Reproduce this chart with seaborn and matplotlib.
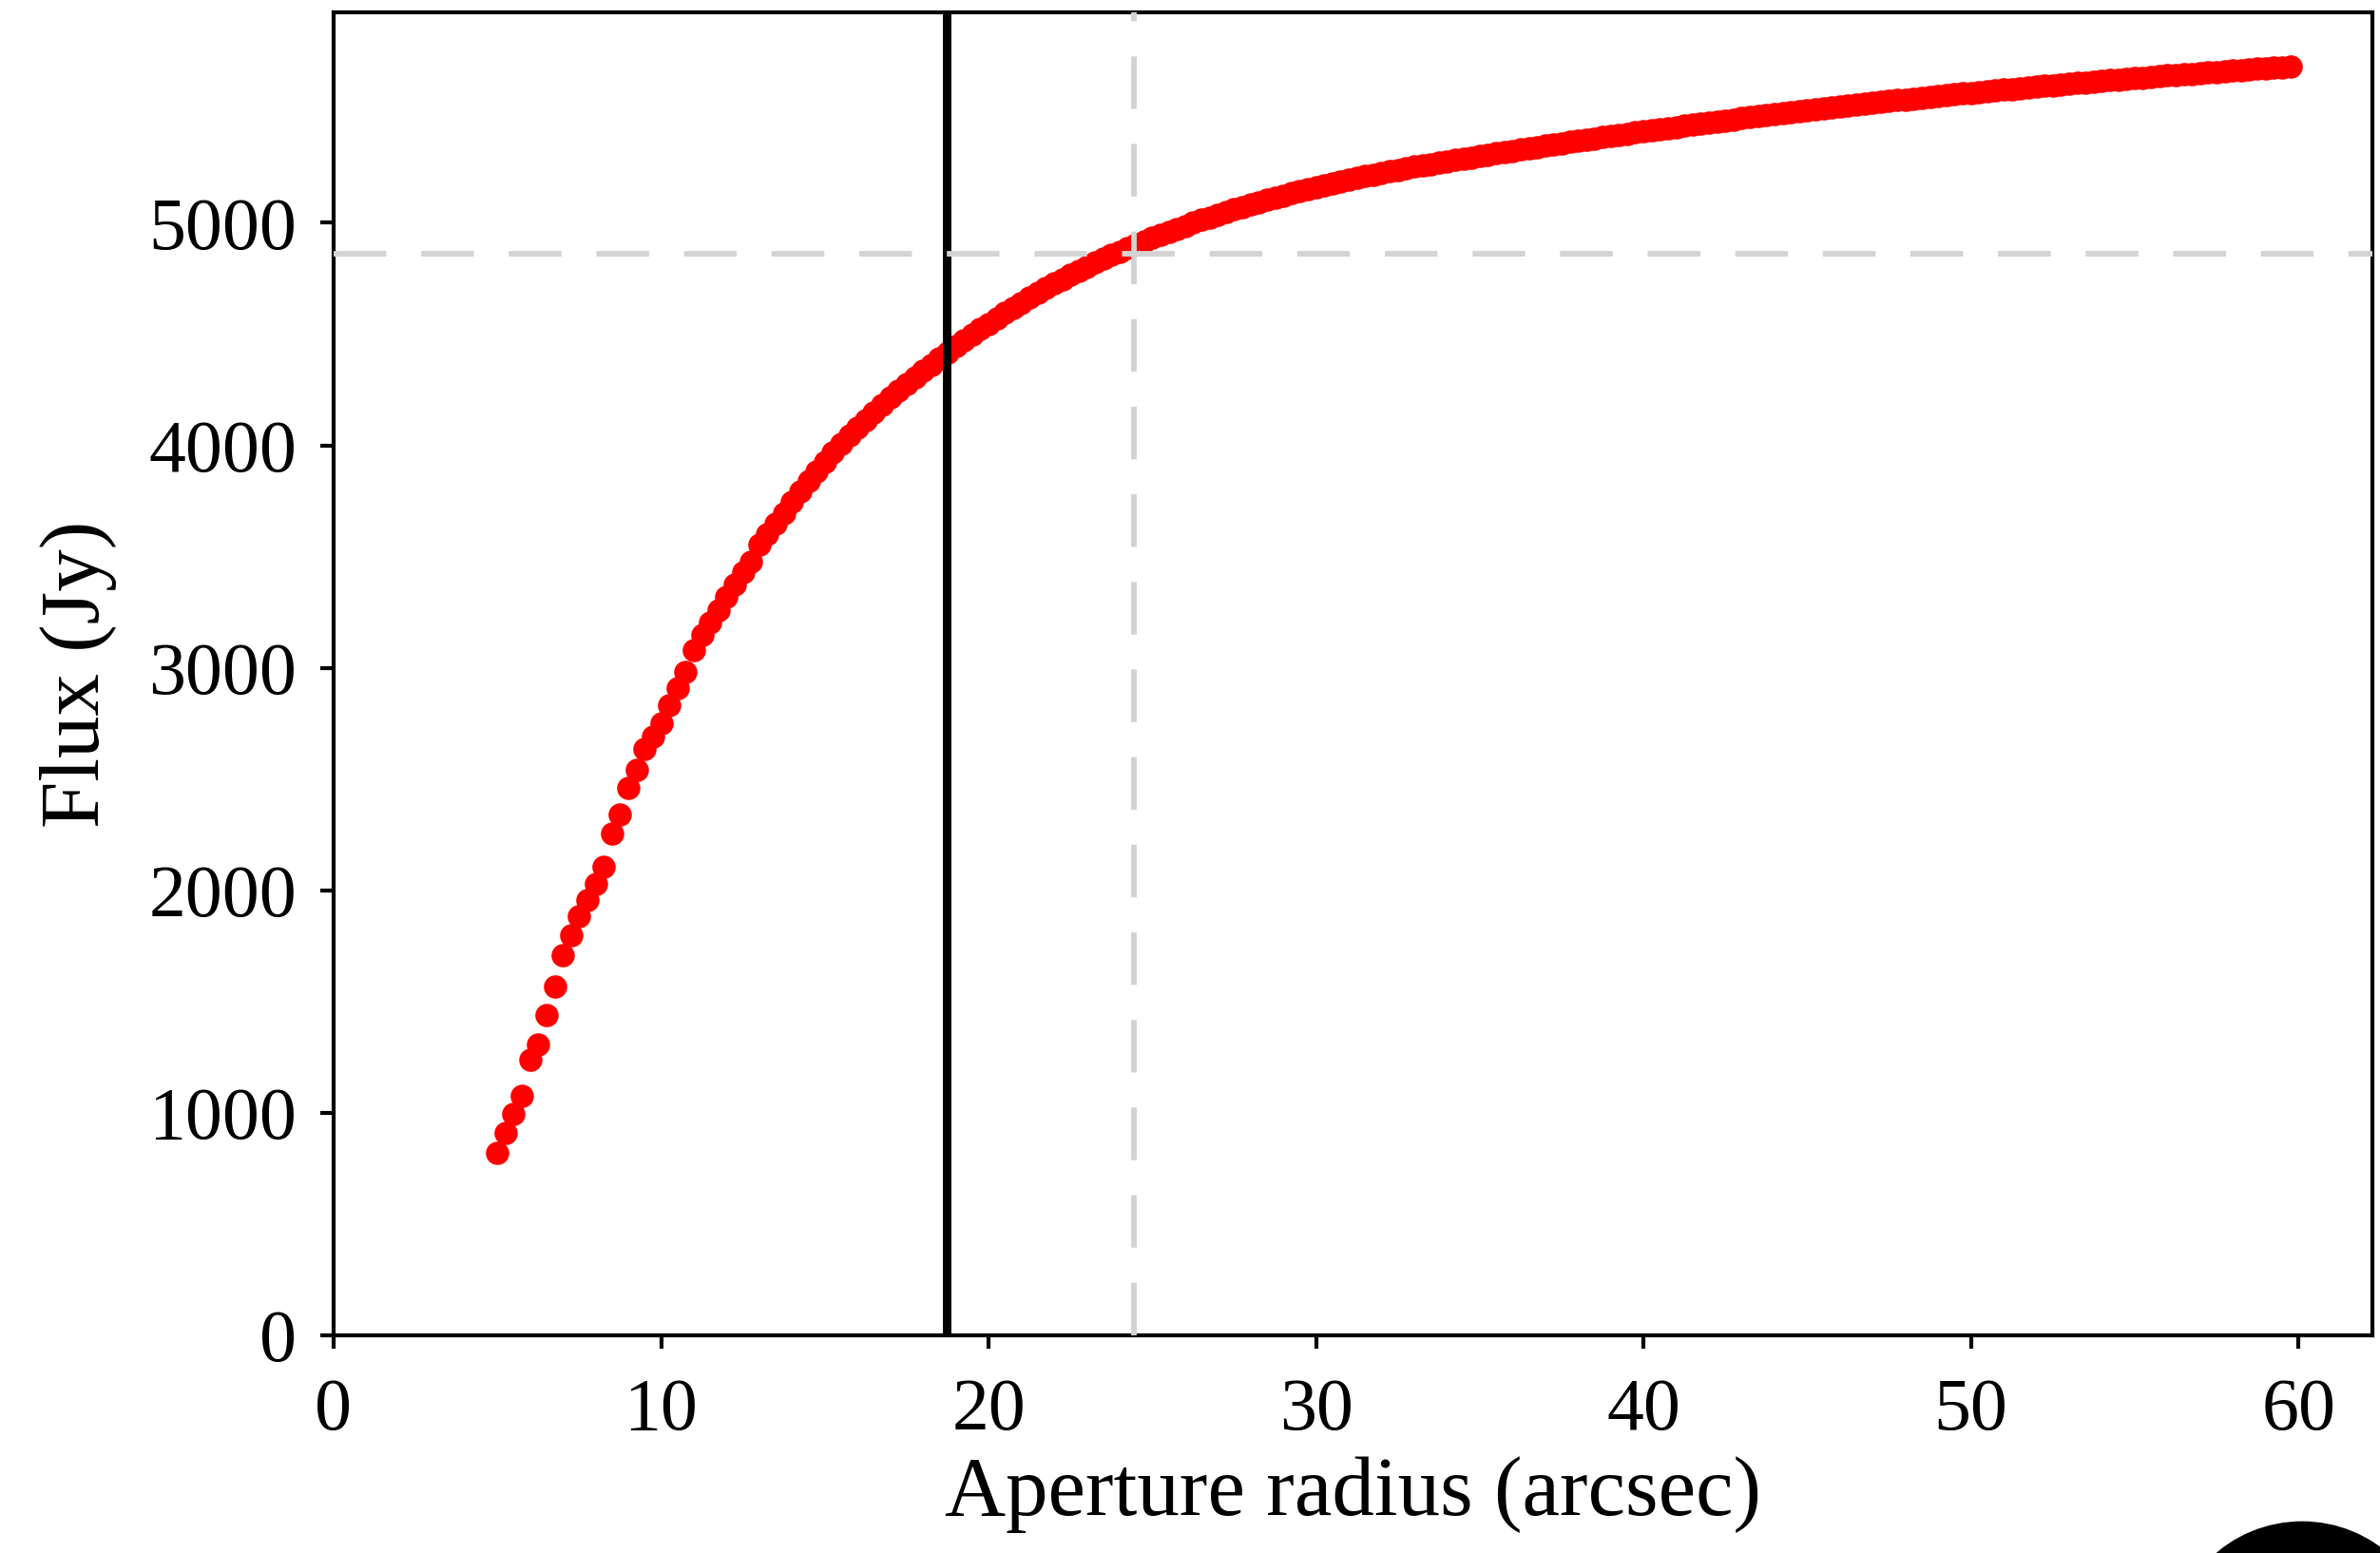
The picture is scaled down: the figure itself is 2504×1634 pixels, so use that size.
import matplotlib
matplotlib.use("Agg")
import matplotlib.pyplot as plt
from matplotlib.patches import Ellipse
import seaborn as sns
import pandas as pd

# Aperture radius (arcsec) sampled every 0.25 arcsec
radius = [
    5.0, 5.25, 5.5, 5.75, 6.0, 6.25, 6.5, 6.75, 7.0, 7.25, 7.5, 7.75,
    8.0, 8.25, 8.5, 8.75, 9.0, 9.25, 9.5, 9.75, 10.0, 10.25, 10.5, 10.75,
    11.0, 11.25, 11.5, 11.75, 12.0, 12.25, 12.5, 12.75, 13.0, 13.25, 13.5, 13.75,
    14.0, 14.25, 14.5, 14.75, 15.0, 15.25, 15.5, 15.75, 16.0, 16.25, 16.5, 16.75,
    17.0, 17.25, 17.5, 17.75, 18.0, 18.25, 18.5, 18.75, 19.0, 19.25, 19.5, 19.75,
    20.0, 20.25, 20.5, 20.75, 21.0, 21.25, 21.5, 21.75, 22.0, 22.25, 22.5, 22.75,
    23.0, 23.25, 23.5, 23.75, 24.0, 24.25, 24.5, 24.75, 25.0, 25.25, 25.5, 25.75,
    26.0, 26.25, 26.5, 26.75, 27.0, 27.25, 27.5, 27.75, 28.0, 28.25, 28.5, 28.75,
    29.0, 29.25, 29.5, 29.75, 30.0, 30.25, 30.5, 30.75, 31.0, 31.25, 31.5, 31.75,
    32.0, 32.25, 32.5, 32.75, 33.0, 33.25, 33.5, 33.75, 34.0, 34.25, 34.5, 34.75,
    35.0, 35.25, 35.5, 35.75, 36.0, 36.25, 36.5, 36.75, 37.0, 37.25, 37.5, 37.75,
    38.0, 38.25, 38.5, 38.75, 39.0, 39.25, 39.5, 39.75, 40.0, 40.25, 40.5, 40.75,
    41.0, 41.25, 41.5, 41.75, 42.0, 42.25, 42.5, 42.75, 43.0, 43.25, 43.5, 43.75,
    44.0, 44.25, 44.5, 44.75, 45.0, 45.25, 45.5, 45.75, 46.0, 46.25, 46.5, 46.75,
    47.0, 47.25, 47.5, 47.75, 48.0, 48.25, 48.5, 48.75, 49.0, 49.25, 49.5, 49.75,
    50.0, 50.25, 50.5, 50.75, 51.0, 51.25, 51.5, 51.75, 52.0, 52.25, 52.5, 52.75,
    53.0, 53.25, 53.5, 53.75, 54.0, 54.25, 54.5, 54.75, 55.0, 55.25, 55.5, 55.75,
    56.0, 56.25, 56.5, 56.75, 57.0, 57.25, 57.5, 57.75, 58.0, 58.25, 58.5, 58.75,
    59.0, 59.25, 59.5, 59.75,
]

# Enclosed flux (Jy)
flux = [
    819, 909, 997, 1078, 1239, 1307, 1438, 1569, 1709, 1797, 1885, 1955,
    2029, 2107, 2254, 2340, 2462, 2540, 2634, 2693, 2752, 2833, 2909, 2983,
    3079, 3147, 3204, 3261, 3318, 3375, 3431, 3477, 3555, 3602, 3649, 3695,
    3745, 3793, 3839, 3884, 3927, 3968, 4007, 4044, 4080, 4115, 4149, 4182,
    4214, 4245, 4275, 4305, 4334, 4363, 4391, 4418, 4445, 4471, 4497, 4522,
    4547, 4571, 4595, 4618, 4641, 4663, 4685, 4706, 4727, 4747, 4766, 4785,
    4803, 4821, 4838, 4855, 4871, 4887, 4902, 4917, 4932, 4946, 4960, 4974,
    4987, 5000, 5013, 5025, 5037, 5049, 5060, 5071, 5082, 5093, 5103, 5113,
    5123, 5133, 5143, 5152, 5161, 5170, 5178, 5186, 5194, 5202, 5210, 5217,
    5224, 5231, 5238, 5245, 5252, 5258, 5264, 5270, 5276, 5282, 5288, 5294,
    5300, 5306, 5312, 5318, 5324, 5330, 5336, 5341, 5347, 5352, 5358, 5363,
    5369, 5374, 5380, 5385, 5390, 5396, 5401, 5406, 5411, 5416, 5421, 5426,
    5431, 5436, 5441, 5446, 5451, 5456, 5461, 5465, 5470, 5475, 5479, 5484,
    5488, 5493, 5497, 5502, 5506, 5510, 5514, 5519, 5523, 5527, 5531, 5535,
    5539, 5543, 5547, 5551, 5555, 5559, 5563, 5566, 5570, 5574, 5577, 5581,
    5585, 5588, 5592, 5595, 5599, 5602, 5605, 5609, 5612, 5615, 5619, 5622,
    5625, 5628, 5631, 5635, 5638, 5641, 5644, 5647, 5650, 5653, 5656, 5659,
    5662, 5665, 5667, 5670, 5673, 5676, 5678, 5681, 5684, 5686, 5689, 5692,
    5694, 5697, 5699, 5702,
]

solid_radius = 18.72      # vertical solid line
dashed_radius = 24.44     # vertical dashed line
dashed_flux = 4862        # horizontal dashed line

x_ticks = [0, 10, 20, 30, 40, 50, 60]
y_ticks = [0, 1000, 2000, 3000, 4000, 5000]

sns.set_theme(style="ticks")
plt.rcParams["font.family"] = ["Liberation Serif", "DejaVu Serif"]

fig = plt.figure(figsize=(12.52, 8.17), dpi=200)
ax = fig.add_axes([351 / 2504, 1 - 1405 / 1634, (2496 - 351) / 2504, (1405 - 13) / 1634])

df = pd.DataFrame({"radius": radius, "flux": flux})
sns.scatterplot(data=df, x="radius", y="flux", ax=ax, color="#ff0000",
                s=78, linewidth=0, zorder=2, legend=False)

ax.axvline(solid_radius, color="black", lw=3.2, zorder=3)
ax.axvline(dashed_radius, color="#d3d3d3", lw=2.1, dashes=(9.5, 6.3), zorder=3)
ax.axhline(dashed_flux, color="#d3d3d3", lw=2.1, dashes=(9.5, 6.3), zorder=3)

ax.set_xlim(0, 62.26)
ax.set_ylim(0, 5946)
ax.set_xticks(x_ticks)
ax.set_yticks(y_ticks)
ax.set_xticklabels([str(t) for t in x_ticks])
ax.set_yticklabels([str(t) for t in y_ticks])

for sp in ax.spines.values():
    sp.set_linewidth(1.5)
    sp.set_color("black")

ax.tick_params(axis="both", direction="out", length=5, width=1.5,
               colors="black", labelsize=28)
ax.tick_params(axis="x", pad=11)
ax.tick_params(axis="y", pad=9)

ax.set_xlabel("Aperture radius (arcsec)", fontsize=32, color="black", labelpad=4)
ax.set_ylabel("Flux (Jy)", fontsize=32, color="black", labelpad=12)

# partial black disc at the lower right corner of the image
fig.add_artist(Ellipse((2422 / 2504, 1 - 1740 / 1634), 276 / 2504, 276 / 1634,
                       transform=fig.transFigure, color="black", clip_on=False))

fig.savefig("out.png", dpi=200)
